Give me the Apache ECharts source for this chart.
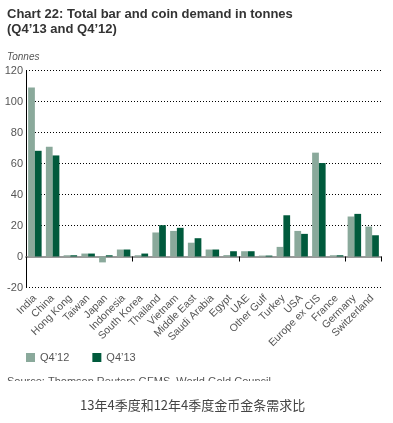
<!DOCTYPE html>
<html><head><meta charset="utf-8">
<script src="https://cdn.jsdelivr.net/npm/echarts@6/dist/echarts.min.js"></script>
<style>html,body{margin:0;padding:0;background:#fff}#c{width:393px;height:423px}</style>
</head><body><div id="c"></div>
<script>
var categories = ['India','China','Hong Kong','Taiwan','Japan','Indonesia','South Korea','Thailand','Vietnam','Middle East','Saudi Arabia','Egypt','UAE','Other Gulf','Turkey','USA','Europe ex CIS','France','Germany','Switzerland'];
var q412 = [109, 70.8, 0.8, 1.9, -3.8, 4.5, 0.8, 15.5, 16.5, 8.9, 4.5, 0.9, 3.4, 0.6, 6.2, 16.5, 67, 0.8, 25.8, 19.3];
var q413 = [68.2, 65.2, 0.8, 1.9, 0.8, 4.5, 1.9, 20.2, 18.5, 11.8, 4.5, 3.4, 3.4, 0.6, 26.6, 14.6, 60.3, 0.8, 27.5, 13.7];
var yTicks = [-20, 0, 20, 40, 60, 80, 100, 120];
var seriesNames = ['Q4\u201912', 'Q4\u201913'];

var chart = echarts.init(document.getElementById('c'));
var font = 'Liberation Sans, Arial, sans-serif';
chart.setOption({
  animation: false,
  textStyle: {fontFamily: font},
  grid: {left: 26, right: 12, top: 70.5, bottom: 135.5, containLabel: false},
  legend: {
    left: 26, top: 352, padding: 0, itemWidth: 9, itemHeight: 9, itemGap: 23,
    icon: 'rect',
    textStyle: {fontSize: 11, color: '#555', fontFamily: font},
    data: seriesNames
  },
  xAxis: [{
    type: 'category', data: categories,
    axisLine: {onZero: true, lineStyle: {color: '#9a9a9a', width: 2}},
    axisTick: {show: true, length: 5, inside: false, lineStyle: {color: '#000', width: 1}},
    axisLabel: {show: false}
  }, {
    type: 'category', data: categories, position: 'bottom',
    axisLine: {show: false}, axisTick: {show: false},
    axisLabel: {rotate: 45, fontSize: 10.5, color: '#555', margin: 9, interval: 0, fontFamily: font}
  }],
  yAxis: {
    type: 'value', min: yTicks[0], max: yTicks[yTicks.length-1], interval: 20,
    axisLine: {show: true, lineStyle: {color: '#000', width: 1}},
    axisTick: {show: false},
    axisLabel: {fontSize: 11, color: '#555', margin: 3, fontFamily: font},
    splitLine: {show: true, lineStyle: {color: '#000', type: [1, 2], width: 1}}
  },
  series: [{
    name: seriesNames[0], type: 'bar', data: q412, barGap: '0%', barCategoryGap: '24%',
    itemStyle: {color: '#8aa99b'}
  }, {
    name: seriesNames[1], type: 'bar', data: q413, barGap: '0%', barCategoryGap: '24%',
    itemStyle: {color: '#005a3c'}
  }],
  graphic: [
    {type: 'text', left: 7, top: 7, style: {text: 'Chart 22: Total bar and coin demand in tonnes\n(Q4\u201913 and Q4\u201912)', font: 'bold 13px ' + font, fill: '#333', lineHeight: 15}},
    {type: 'text', left: 7, top: 52, style: {text: 'Tonnes', font: 'italic 10px ' + font, fill: '#555'}},
    {type: 'text', left: 7, top: 376, style: {text: 'Source: Thomson Reuters GFMS, World Gold Council', font: '11px ' + font, fill: '#555'}},
    {type: 'rect', left: 0, top: 381, shape: {width: 393, height: 14}, style: {fill: '#fff'}},
    {type: 'text', left: 80, top: 399, style: {text: '13年4季度和12年4季度金币金条需求比', font: '13px "Noto Sans CJK SC", sans-serif', fill: '#444'}}
  ]
});
</script></body></html>
